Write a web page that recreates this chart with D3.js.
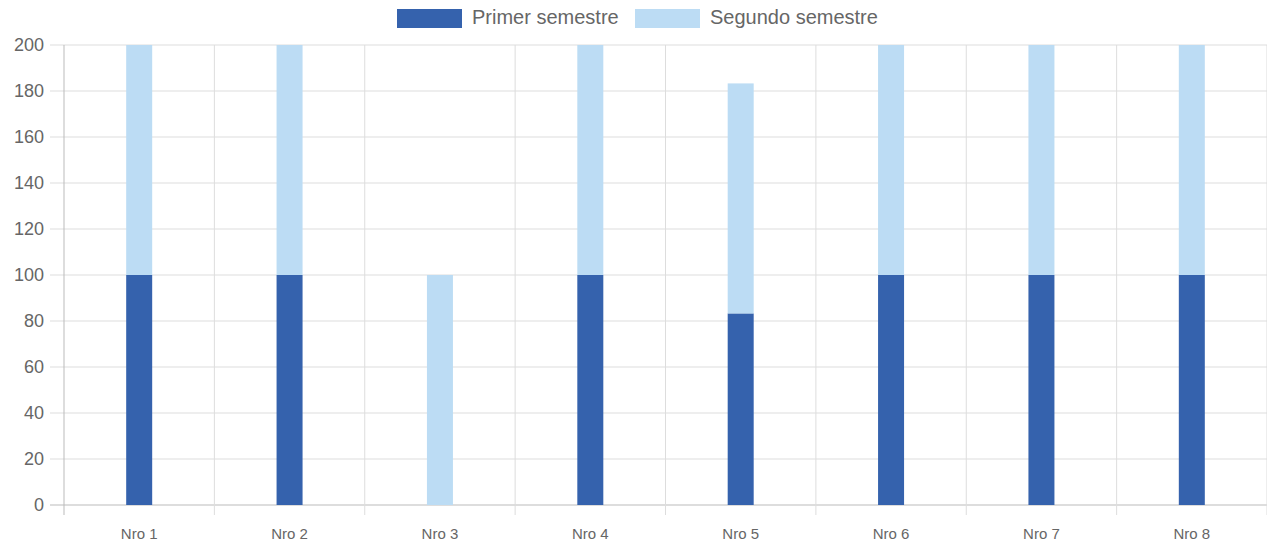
<!DOCTYPE html>
<html>
<head>
<meta charset="utf-8">
<script src="https://cdn.jsdelivr.net/npm/d3@7"></script>
<style>
  body { margin: 0; background: #fff; }
  text { font-family: Arial, "Liberation Sans", sans-serif; fill: #666; }
</style>
</head>
<body>
<script>
// data
var categories = ["Nro 1", "Nro 2", "Nro 3", "Nro 4", "Nro 5", "Nro 6", "Nro 7", "Nro 8"];
var primer = [100, 100, 0, 100, 83.3, 100, 100, 100];
var segundo = [100, 100, 100, 100, 100, 100, 100, 100];
var seriesNames = ["Primer semestre", "Segundo semestre"];
var yTicks = [0, 20, 40, 60, 80, 100, 120, 140, 160, 180, 200];

var colors = ["#3562ad", "#bcdcf4"];

var margin = {top: 45, bottom: 42, left: 64, right: 0},
    width = 1267 - margin.left - margin.right,
    height = 547 - margin.top - margin.bottom;

var svg = d3.select("body").append("svg")
    .attr("width", 1267)
    .attr("height", 547);

var g = svg.append("g")
    .attr("transform", "translate(" + margin.left + "," + margin.top + ")");

var x = d3.scaleBand().domain(categories).range([0, width]);
var y = d3.scaleLinear().domain([0, 200]).range([height, 0]);

// horizontal grid + left tick marks
g.selectAll(".hgrid").data(yTicks).enter().append("line")
    .attr("x1", -14).attr("x2", width)
    .attr("y1", d => y(d)).attr("y2", d => y(d))
    .attr("stroke", d => d === 0 ? "#bbb" : "#ddd")
    .attr("stroke-width", 1);

// vertical grid lines at category edges
var edges = categories.map(c => x(c)).concat([width]);
g.selectAll(".vgrid").data(edges).enter().append("line")
    .attr("x1", d => d).attr("x2", d => d)
    .attr("y1", 0).attr("y2", height + 10)
    .attr("stroke", (d, i) => i === 0 ? "#bbb" : "#ddd")
    .attr("stroke-width", 1);

// y labels
g.selectAll(".ylab").data(yTicks).enter().append("text")
    .attr("x", -20).attr("y", d => y(d))
    .attr("dy", "0.35em")
    .attr("text-anchor", "end")
    .style("font-size", "18px")
    .text(d => d);

// x labels
g.selectAll(".xlab").data(categories).enter().append("text")
    .attr("x", d => x(d) + x.bandwidth() / 2)
    .attr("y", height + 34)
    .attr("text-anchor", "middle")
    .style("font-size", "15px")
    .text(d => d);

// stacked bars
var barW = 26;
var rows = categories.map((c, i) => ({cat: c, primer: primer[i], segundo: segundo[i]}));
var stack = d3.stack().keys(["primer", "segundo"])(rows);

g.selectAll(".series").data(stack).enter().append("g")
    .attr("fill", (d, i) => colors[i])
    .selectAll("rect").data(d => d).enter().append("rect")
    .attr("x", d => x(d.data.cat) + x.bandwidth() / 2 - barW / 2)
    .attr("width", barW)
    .attr("y", d => y(d[1]))
    .attr("height", d => y(d[0]) - y(d[1]));

// legend
var legend = svg.append("g");
var legX = [397, 635];
seriesNames.forEach(function(name, i) {
    legend.append("rect")
        .attr("x", legX[i]).attr("y", 9)
        .attr("width", 65).attr("height", 19)
        .attr("fill", colors[i]);
    legend.append("text")
        .attr("x", legX[i] + 75).attr("y", 17)
        .attr("dy", "0.35em")
        .style("font-size", "20px")
        .text(name);
});
</script>
</body>
</html>
